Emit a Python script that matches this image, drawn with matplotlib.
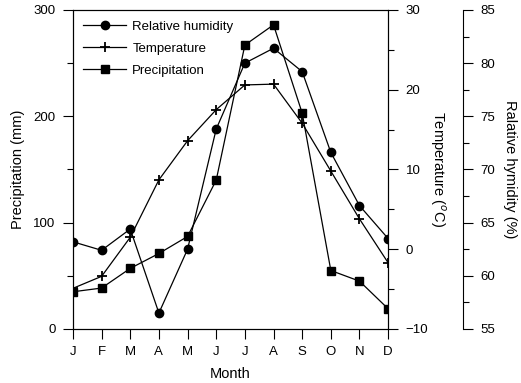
import matplotlib
matplotlib.use("Agg")
import matplotlib.pyplot as plt
from matplotlib.ticker import MultipleLocator

plt.rcParams['font.family'] = ['Liberation Sans', 'DejaVu Sans']
fs = 9.5

months = ["J", "F", "M", "A", "M", "J", "J", "A", "S", "O", "N", "D"]
precip = [35, 38.5, 57, 71, 87, 140, 267, 286, 203, 55, 45, 19]
temp = [-4.9, -3.4, 1.5, 8.7, 13.6, 17.5, 20.6, 20.7, 15.8, 9.8, 3.8, -1.7]
humidity = [63.2, 62.4, 64.4, 56.5, 62.5, 73.8, 80.0, 81.4, 79.2, 71.6, 66.6, 63.5]

x = list(range(len(months)))

fig = plt.figure(figsize=(5.21, 3.83), dpi=100)
ax = fig.add_axes([0.140, 0.141, 0.605, 0.833])
ax_t = ax.twinx()
ax_h = ax.twinx()
ax_h.spines['right'].set_position(('axes', 1.238))
for s in ['top', 'left', 'bottom']:
    ax_h.spines[s].set_visible(False)

lp, = ax.plot(x, precip, "-", color="black", lw=0.9, marker="s", ms=6, label="Precipitation")
lt, = ax_t.plot(x, temp, "-", color="black", lw=0.9, marker="+", ms=7, mew=1.3, label="Temperature")
lh, = ax_h.plot(x, humidity, "-", color="black", lw=0.9, marker="o", ms=6, label="Relative humidity")

ax.set_xlim(0, 11)
ax.set_ylim(0, 300)
ax_t.set_ylim(-10, 30)
ax_h.set_ylim(55, 85)

ax.set_xticks(x)
ax.set_xticklabels(months)
ax.yaxis.set_major_locator(MultipleLocator(100))
ax.yaxis.set_minor_locator(MultipleLocator(50))
ax_t.yaxis.set_major_locator(MultipleLocator(10))
ax_t.yaxis.set_minor_locator(MultipleLocator(5))
ax_h.yaxis.set_major_locator(MultipleLocator(5))
ax_h.yaxis.set_minor_locator(MultipleLocator(2.5))

for a in [ax, ax_t, ax_h]:
    a.tick_params(which="major", length=7.5, width=0.8, labelsize=fs, direction="out", pad=5)
    a.tick_params(which="minor", length=4.5, width=0.8, direction="out")
    for s in a.spines.values():
        s.set_linewidth(0.8)

ax.set_ylabel("Precipitation (mm)", fontsize=fs + 1, labelpad=6)
ax.set_xlabel("Month", fontsize=fs + 1, labelpad=6)
ax_t.set_ylabel("Temperature ($^{o}$C)", fontsize=fs + 1, rotation=270, labelpad=14)
ax_h.set_ylabel("Ralative hymidity (%)", fontsize=fs + 1, rotation=270, labelpad=16)

ax.legend(handles=[lh, lt, lp], loc="upper left", frameon=False, fontsize=fs,
          handlelength=3.2, handletextpad=0.5, borderaxespad=0.3,
          borderpad=0.5, labelspacing=0.75)

fig.savefig("out.png", dpi=100)
